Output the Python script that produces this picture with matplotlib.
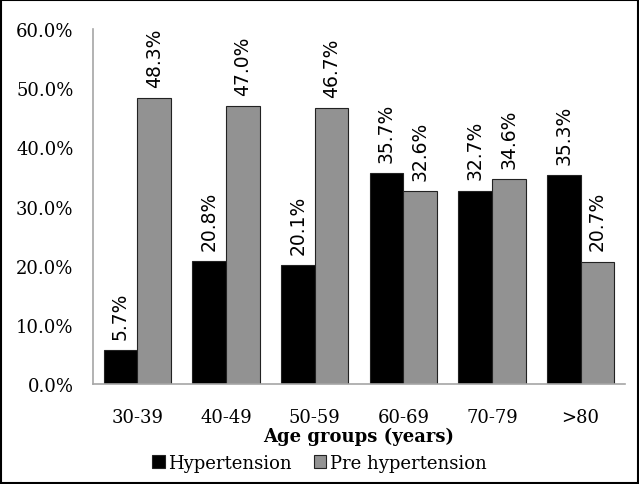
import matplotlib
matplotlib.use('Agg')
import numpy as np
import matplotlib.pyplot as plt
from matplotlib.ticker import FuncFormatter

groups = ['30-39', '40-49', '50-59', '60-69', '70-79', '>80']
hypertension = [5.7, 20.8, 20.1, 35.7, 32.7, 35.3]
pre_hypertension = [48.3, 47.0, 46.7, 32.6, 34.6, 20.7]

serif = 'DejaVu Serif'
sans = 'DejaVu Sans'

fig = plt.figure(figsize=(6.39, 4.85), dpi=100)
ax = fig.add_axes([0.1455, 0.206, 0.8325, 0.732])

x = np.arange(len(groups))
w = 0.38
b1 = ax.bar(x - w / 2, hypertension, w, color='black', edgecolor='#222222', linewidth=0.8, label='Hypertension')
b2 = ax.bar(x + w / 2, pre_hypertension, w, color='#929292', edgecolor='#222222', linewidth=0.8, label='Pre hypertension')

for bars, vals in [(b1, hypertension), (b2, pre_hypertension)]:
    for bar, v in zip(bars, vals):
        ax.annotate('%.1f%%' % v, (bar.get_x() + bar.get_width() / 2, v),
                    xytext=(0, 8), textcoords='offset points', rotation=90,
                    ha='center', va='bottom', fontsize=13.5, family=sans)

ax.set_xlim(-0.5, len(groups) - 0.5)
ax.set_ylim(0, 60)
ax.set_yticks(np.arange(0, 61, 10))
ax.yaxis.set_major_formatter(FuncFormatter(lambda v, p: '%.1f%%' % v))
ax.set_xticks(x)
ax.set_xticklabels(groups)
ax.tick_params(length=0, labelsize=13)
ax.tick_params(axis='y', pad=14)
ax.tick_params(axis='x', pad=17)
for lab in ax.get_xticklabels() + ax.get_yticklabels():
    lab.set_family(serif)

for s in ['top', 'right']:
    ax.spines[s].set_visible(False)
for s in ['left', 'bottom']:
    ax.spines[s].set_color('#a6a6a6')
    ax.spines[s].set_linewidth(1.2)

ax.set_xlabel('Age groups (years)', fontsize=13, fontweight='bold', family=serif, labelpad=1)
fig.legend(handles=[b1, b2], loc='center', bbox_to_anchor=(0.5, 0.044), ncol=2, frameon=False,
           prop={'family': serif, 'size': 13}, handlelength=0.7, handleheight=0.7,
           handletextpad=0.2, columnspacing=1.2)

fig.patches.append(plt.Rectangle((0.002, 0.002), 0.996, 0.996, transform=fig.transFigure,
                                 fill=False, edgecolor='black', linewidth=1.5))

plt.savefig('out.png')
